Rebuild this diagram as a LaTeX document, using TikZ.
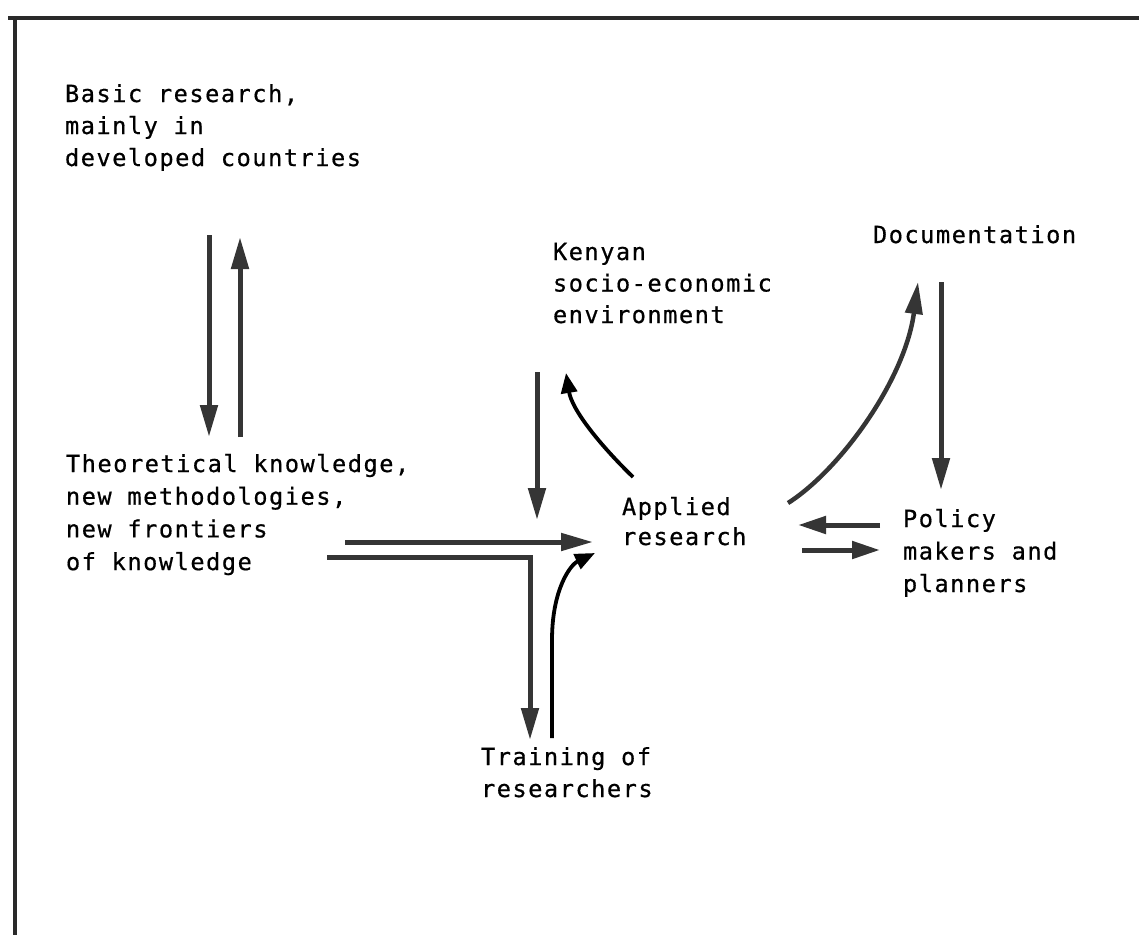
\documentclass[tikz,border=0pt]{standalone}
\usepackage{fontspec}
\usetikzlibrary{arrows.meta}
\newfontfamily\lgfont{DejaVu Sans Mono}[LetterSpace=6.5,FakeBold=0.6]
\definecolor{ink}{HTML}{353535}
\definecolor{frame}{HTML}{2A2A2A}
\newcommand{\blk}[2]{{\fontsize{23.6}{#1}\selectfont\begin{tabular}[t]{@{}l@{}}#2\end{tabular}}}
\tikzset{
  lbl/.style={anchor=base west, inner sep=0pt, outer sep=0pt, font=\lgfont},
  arr/.style={line width=5pt, draw=ink, -{Triangle[length=32pt,width=17pt]}},
  carr/.style={line width=3.8pt, draw=black, -{Triangle[length=20pt,width=16pt]}},
  frameline/.style={line width=4.5pt, draw=frame}
}
\begin{document}
\begin{tikzpicture}[x=1pt,y=-1pt]
\useasboundingbox (0,0) rectangle (1139,935);
\fill[white] (0,0) rectangle (1139,935);
% frame
\coordinate (ftl) at (15,18);
\coordinate (ftr) at (1139,18);
\coordinate (fbl) at (15,935);
\draw[frameline] (ftr) -- (8,18);
\draw[frameline] (15,16) -- (fbl);

% text nodes
\node[lbl] (basic) at (65,102) {\blk{32}{Basic research,\\mainly in\\developed countries}};
\node[lbl] (kenyan) at (553,260) {\blk{31.5}{Kenyan\\socio-economic\\environment}};
\node[lbl] (doc) at (873,243) {\blk{32}{Documentation}};
\node[lbl] (theo) at (66,472) {\blk{32.7}{Theoretical knowledge,\\new methodologies,\\new frontiers\\of knowledge}};
\node[lbl] (applied) at (622,515) {\blk{30}{Applied\\research}};
\node[lbl] (policy) at (903,527) {\blk{32.5}{Policy\\makers and\\planners}};
\node[lbl] (train) at (481,765) {\blk{32}{Training of\\researchers}};

% connector end points
\coordinate (b1s) at (209,235); \coordinate (b1e) at (209,437);
\coordinate (b2s) at (240,437); \coordinate (b2e) at (240,237);
\coordinate (k1s) at (537,372); \coordinate (k1e) at (537,520);
\coordinate (a1s) at (633,477); \coordinate (a1e) at (566,373);
\coordinate (t1s) at (345,542); \coordinate (t1e) at (593,542);
\coordinate (t2s) at (327,557); \coordinate (t2c) at (530,557); \coordinate (t2e) at (530,740);
\coordinate (r1s) at (552,738); \coordinate (r1m) at (552,640); \coordinate (r1e) at (595,553);
\coordinate (a2s) at (788,503); \coordinate (a2e) at (918,282);
\coordinate (d1s) at (941,282); \coordinate (d1e) at (941,490);
\coordinate (p1s) at (880,525); \coordinate (p1e) at (798,525);
\coordinate (p2s) at (802,550); \coordinate (p2e) at (880,550);

% connectors
\draw[arr] (b1s) -- (b1e);
\draw[arr] (b2s) -- (b2e);
\draw[arr] (k1s) -- (k1e);
\draw[carr] (a1s) .. controls (600,445) and (572,410) .. (a1e);
\draw[arr] (t1s) -- (t1e);
\draw[arr, line join=miter] (t2s) -- (t2c) -- (t2e);
\draw[carr] (r1s) -- (r1m) .. controls (552,590) and (570,565) .. (r1e);
\draw[arr, line width=4.5pt] (a2s) .. controls (840,470) and (905,380) .. (a2e);
\draw[arr] (d1s) -- (d1e);
\draw[arr, -{Triangle[length=28pt,width=17pt]}] (p1s) -- (p1e);
\draw[arr, -{Triangle[length=28pt,width=17pt]}] (p2s) -- (p2e);
\end{tikzpicture}
\end{document}
